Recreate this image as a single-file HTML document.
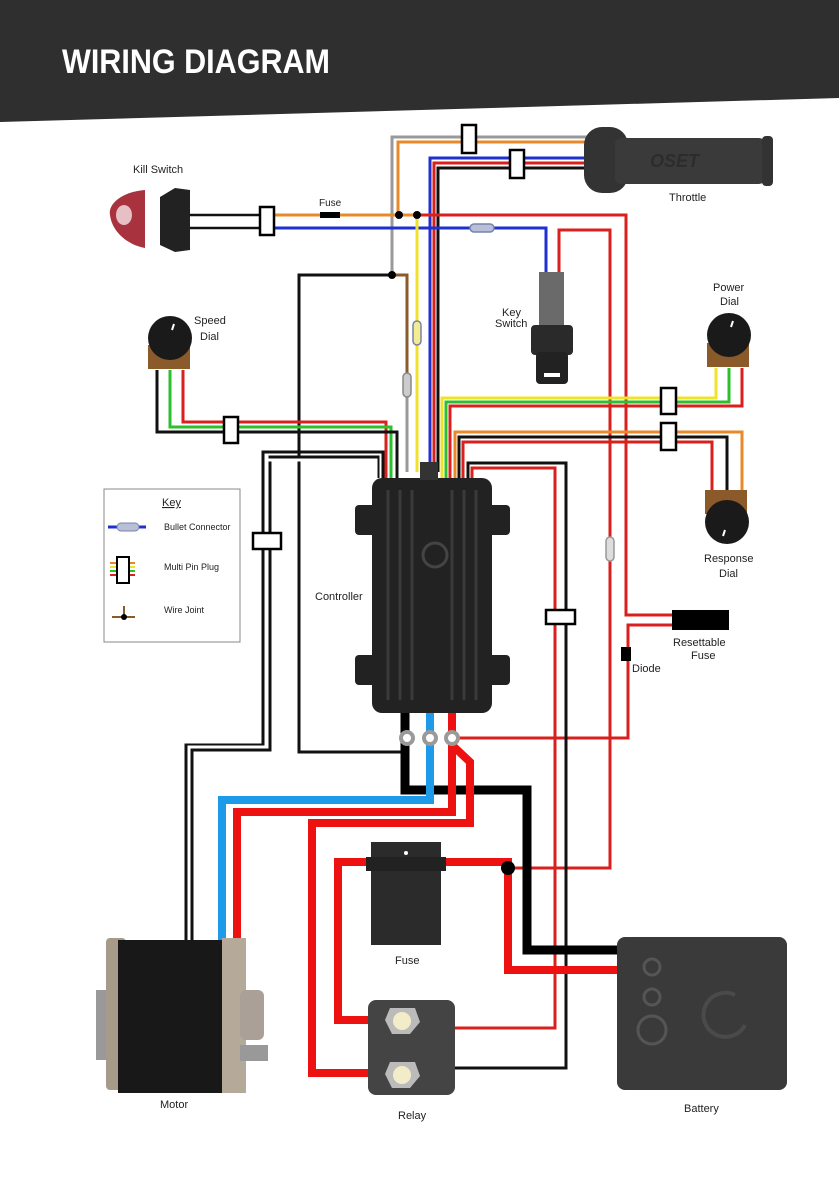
<!DOCTYPE html>
<html><head><meta charset="utf-8"><style>
html,body{margin:0;padding:0;background:#fff}
svg{display:block}
text{font-family:"Liberation Sans",sans-serif;font-size:11px;fill:#222}
</style></head><body>
<svg width="839" height="1191" viewBox="0 0 839 1191" xmlns="http://www.w3.org/2000/svg">
<polygon points="0,0 839,0 839,98 0,122" fill="#2f2f2f"/>
<text x="62" y="73" textLength="268" lengthAdjust="spacingAndGlyphs" style="font-size:34px;font-weight:bold;fill:#fff">WIRING DIAGRAM</text>

<g fill="none" stroke-linejoin="miter">
<polyline points="590,137 392,137 392,275" stroke="#999" stroke-width="3"/>
<polyline points="590,142 398,142 398,215" stroke="#e8892a" stroke-width="3"/>
<polyline points="590,158 430,158 430,472" stroke="#1f2fd0" stroke-width="3"/>
<polyline points="590,163 434,163 434,472" stroke="#d9201e" stroke-width="3"/>
<polyline points="590,168 438,168 438,472" stroke="#111" stroke-width="3"/>
<polyline points="275,215 417,215" stroke="#e8892a" stroke-width="3"/>
<polyline points="417,215 626,215 626,615 672,615" stroke="#d9201e" stroke-width="3"/>
<polyline points="672,625 628,625 628,738 458,738" stroke="#d9201e" stroke-width="3"/>
<polyline points="275,228 546,228 546,272" stroke="#1f2fd0" stroke-width="3"/>
<polyline points="417,215 417,472" stroke="#f0e22a" stroke-width="3"/>
<polyline points="559,272 559,230 610,230 610,868 508,868" stroke="#d9201e" stroke-width="3"/>
<polyline points="392,275 407,275 407,378" stroke="#8a5a2b" stroke-width="3"/>
<polyline points="407,378 407,472" stroke="#999" stroke-width="3"/>
<polyline points="392,275 299,275 299,752 405,752" stroke="#111" stroke-width="3"/>
<polyline points="183,370 183,422 386,422 386,478" stroke="#d9201e" stroke-width="3"/>
<polyline points="170,370 170,427 391,427 391,478" stroke="#2cc02c" stroke-width="3"/>
<polyline points="157,370 157,432 397,432 397,478" stroke="#111" stroke-width="3"/>
<polyline points="716,368 716,398 442,398 442,478" stroke="#f0e22a" stroke-width="3"/>
<polyline points="729,368 729,402 446,402 446,478" stroke="#2cc02c" stroke-width="3"/>
<polyline points="742,368 742,406 450,406 450,478" stroke="#d9201e" stroke-width="3"/>
<polyline points="742,492 742,432 455,432 455,478" stroke="#e8892a" stroke-width="3"/>
<polyline points="727,492 727,437 459,437 459,478" stroke="#111" stroke-width="3"/>
<polyline points="712,492 712,442 463,442 463,478" stroke="#d9201e" stroke-width="3"/>
<polyline points="468,478 468,463 566,463 566,1068 455,1068" stroke="#111" stroke-width="3"/>
<polyline points="472,478 472,468 555,468 555,1028 455,1028" stroke="#d9201e" stroke-width="3"/>
<polyline points="383,478 383,452 263,452 263,745 186,745 186,945" stroke="#111" stroke-width="3"/>
<polyline points="378,478 378,457 270,457 270,750 192,750 192,945" stroke="#111" stroke-width="3"/>
<polyline points="376,478 376,460 267,460 267,747 189,747 189,945" stroke="#fff" stroke-width="3"/>
<polyline points="405,713 405,790 527,790 527,950 617,950" stroke="#000" stroke-width="9"/>
<polyline points="430,713 430,800 222,800 222,945" stroke="#1e9be8" stroke-width="8"/>
<polyline points="452,713 452,812 237,812 237,945" stroke="#ee1111" stroke-width="8"/>
<polyline points="452,745 470,762 470,823 312,823 312,1073 395,1073" stroke="#ee1111" stroke-width="8"/>
<polyline points="440,862 508,862 508,970 617,970" stroke="#ee1111" stroke-width="8"/>
<polyline points="372,862 338,862 338,1020 395,1020" stroke="#ee1111" stroke-width="8"/>
<rect x="180" y="215" width="82" height="13" fill="#fff" stroke="#111" stroke-width="2.5"/>
</g>

<circle cx="399" cy="215" r="4" fill="#000"/><circle cx="417" cy="215" r="4" fill="#000"/>
<circle cx="392" cy="275" r="4" fill="#000"/><circle cx="508" cy="868" r="7" fill="#000"/>
<rect x="320" y="212" width="20" height="6" fill="#000"/>
<g fill="#fff" stroke="#000" stroke-width="2.5">
<rect x="260" y="207" width="14" height="28"/>
<rect x="462" y="125" width="14" height="28"/>
<rect x="510" y="150" width="14" height="28"/>
<rect x="224" y="417" width="14" height="26"/>
<rect x="661" y="388" width="15" height="26"/>
<rect x="661" y="423" width="15" height="27"/>
<rect x="253" y="533" width="28" height="16"/>
<rect x="546" y="610" width="29" height="14"/>
</g>
<g fill="#b8bfd8" stroke="#7a82a8" stroke-width="1.5">
<rect x="470" y="224" width="24" height="8" rx="4"/>
<rect x="413" y="321" width="8" height="24" rx="4" fill="#f3ec90"/>
<rect x="403" y="373" width="8" height="24" rx="4" fill="#ccc" stroke="#888"/>
<rect x="606" y="537" width="8" height="24" rx="4" fill="#ddd" stroke="#999"/>
</g>
<rect x="621" y="647" width="10" height="14" fill="#000"/>
<rect x="672" y="610" width="57" height="20" fill="#000"/>

<g fill="#fff" stroke="#9a9a9a" stroke-width="4">
<circle cx="407" cy="738" r="6"/><circle cx="430" cy="738" r="6"/><circle cx="452" cy="738" r="6"/>
</g>

<g fill="#222">
<rect x="372" y="478" width="120" height="235" rx="10"/>
<rect x="355" y="505" width="22" height="30" rx="4"/>
<rect x="355" y="655" width="22" height="30" rx="4"/>
<rect x="488" y="505" width="22" height="30" rx="4"/>
<rect x="488" y="655" width="22" height="30" rx="4"/>
<rect x="420" y="462" width="18" height="18" fill="#333"/>
</g>
<g stroke="#3a3a3a" stroke-width="3">
<line x1="388" y1="490" x2="388" y2="700"/><line x1="400" y1="490" x2="400" y2="700"/>
<line x1="412" y1="490" x2="412" y2="700"/><line x1="452" y1="490" x2="452" y2="700"/>
<line x1="464" y1="490" x2="464" y2="700"/><line x1="476" y1="490" x2="476" y2="700"/>
</g>
<circle cx="435" cy="555" r="12" fill="none" stroke="#444" stroke-width="3"/>

<path d="M145,190 C120,192 108,205 110,215 C112,232 128,245 145,248 Z" fill="#a8323d"/>
<ellipse cx="124" cy="215" rx="8" ry="10" fill="#e6c0c4"/>
<path d="M160,197 L175,188 L190,190 L190,250 L175,252 L160,245 Z" fill="#222"/>

<rect x="584" y="127" width="44" height="66" rx="18" fill="#333"/>
<rect x="615" y="138" width="150" height="46" rx="6" fill="#3a3a3a"/>
<rect x="762" y="136" width="11" height="50" rx="4" fill="#333"/>
<text x="650" y="167" style="font-size:18px;font-weight:bold;font-style:italic;fill:#2c2c2c">OSET</text>

<rect x="539" y="272" width="25" height="55" fill="#6a6a6a"/>
<rect x="531" y="325" width="42" height="30" rx="4" fill="#2a2a2a"/>
<rect x="536" y="352" width="32" height="32" rx="4" fill="#222"/>
<rect x="544" y="373" width="16" height="4" fill="#fff"/>

<g>
<rect x="148" y="345" width="42" height="24" fill="#8b5a2b"/>
<circle cx="170" cy="338" r="22" fill="#1a1a1a"/>
<line x1="172" y1="330" x2="174" y2="324" stroke="#fff" stroke-width="2"/>
<rect x="707" y="343" width="42" height="24" fill="#8b5a2b"/>
<circle cx="729" cy="335" r="22" fill="#1a1a1a"/>
<line x1="731" y1="327" x2="733" y2="321" stroke="#fff" stroke-width="2"/>
<rect x="705" y="490" width="42" height="24" fill="#8b5a2b"/>
<circle cx="727" cy="522" r="22" fill="#1a1a1a"/>
<line x1="725" y1="530" x2="723" y2="536" stroke="#fff" stroke-width="2"/>
</g>

<rect x="371" y="842" width="70" height="103" fill="#2b2b2b"/>
<rect x="366" y="857" width="80" height="14" fill="#222"/>
<circle cx="406" cy="853" r="2" fill="#fff"/>

<rect x="368" y="1000" width="87" height="95" rx="8" fill="#444"/>
<polygon points="390,1008 415,1008 420,1022 410,1034 392,1034 385,1020" fill="#bbb"/>
<circle cx="402" cy="1021" r="9" fill="#f3ecc8"/>
<polygon points="390,1062 415,1062 420,1076 410,1088 392,1088 385,1074" fill="#bbb"/>
<circle cx="402" cy="1075" r="9" fill="#f3ecc8"/>

<rect x="617" y="937" width="170" height="153" rx="8" fill="#3a3a3a"/>
<circle cx="652" cy="967" r="8" fill="none" stroke="#555" stroke-width="3"/>
<circle cx="652" cy="997" r="8" fill="none" stroke="#555" stroke-width="3"/>
<circle cx="652" cy="1030" r="14" fill="none" stroke="#555" stroke-width="3"/>
<path d="M735,995 A22,22 0 1,0 745,1025" fill="none" stroke="#4a4a4a" stroke-width="4"/>

<rect x="96" y="990" width="30" height="70" fill="#999"/>
<rect x="106" y="938" width="20" height="152" rx="4" fill="#a89a8a"/>
<rect x="118" y="940" width="106" height="153" fill="#181818"/>
<rect x="222" y="938" width="24" height="155" fill="#b5aa9a"/>
<rect x="240" y="990" width="24" height="50" rx="6" fill="#aaa098"/>
<rect x="240" y="1045" width="28" height="16" fill="#999"/>

<rect x="104" y="489" width="136" height="153" fill="#fff" stroke="#888" stroke-width="1"/>
<text x="162" y="506" style="text-decoration:underline;font-size:11px">Key</text>
<line x1="108" y1="527" x2="146" y2="527" stroke="#1f2fd0" stroke-width="3"/>
<rect x="117" y="523" width="22" height="8" rx="4" fill="#b8bfd8" stroke="#7a82a8"/>
<text x="164" y="530" style="font-size:9px">Bullet Connector</text>
<line x1="110" y1="563" x2="135" y2="563" stroke="#e8892a" stroke-width="2"/>
<line x1="110" y1="567" x2="135" y2="567" stroke="#f0e22a" stroke-width="2"/>
<line x1="110" y1="571" x2="135" y2="571" stroke="#2cc02c" stroke-width="2"/>
<line x1="110" y1="575" x2="135" y2="575" stroke="#d9201e" stroke-width="2"/>
<rect x="117" y="557" width="12" height="26" fill="#fff" stroke="#000" stroke-width="2"/>
<text x="164" y="570" style="font-size:9px">Multi Pin Plug</text>
<line x1="112" y1="617" x2="135" y2="617" stroke="#8a5a2b" stroke-width="2"/>
<line x1="124" y1="606" x2="124" y2="617" stroke="#8a5a2b" stroke-width="2"/>
<circle cx="124" cy="617" r="3" fill="#000"/>
<text x="164" y="613" style="font-size:9px">Wire Joint</text>

<text x="133" y="173">Kill Switch</text>
<text x="319" y="206" style="font-size:10px">Fuse</text>
<text x="669" y="201">Throttle</text>
<text x="194" y="324">Speed</text><text x="200" y="340">Dial</text>
<text x="502" y="316">Key</text><text x="495" y="327">Switch</text>
<text x="713" y="291">Power</text><text x="720" y="305">Dial</text>
<text x="704" y="562">Response</text><text x="719" y="577">Dial</text>
<text x="315" y="600">Controller</text>
<text x="673" y="646">Resettable</text><text x="691" y="659">Fuse</text>
<text x="632" y="672">Diode</text>
<text x="395" y="964">Fuse</text>
<text x="160" y="1108">Motor</text>
<text x="398" y="1119">Relay</text>
<text x="684" y="1112">Battery</text>
</svg>
</body></html>
